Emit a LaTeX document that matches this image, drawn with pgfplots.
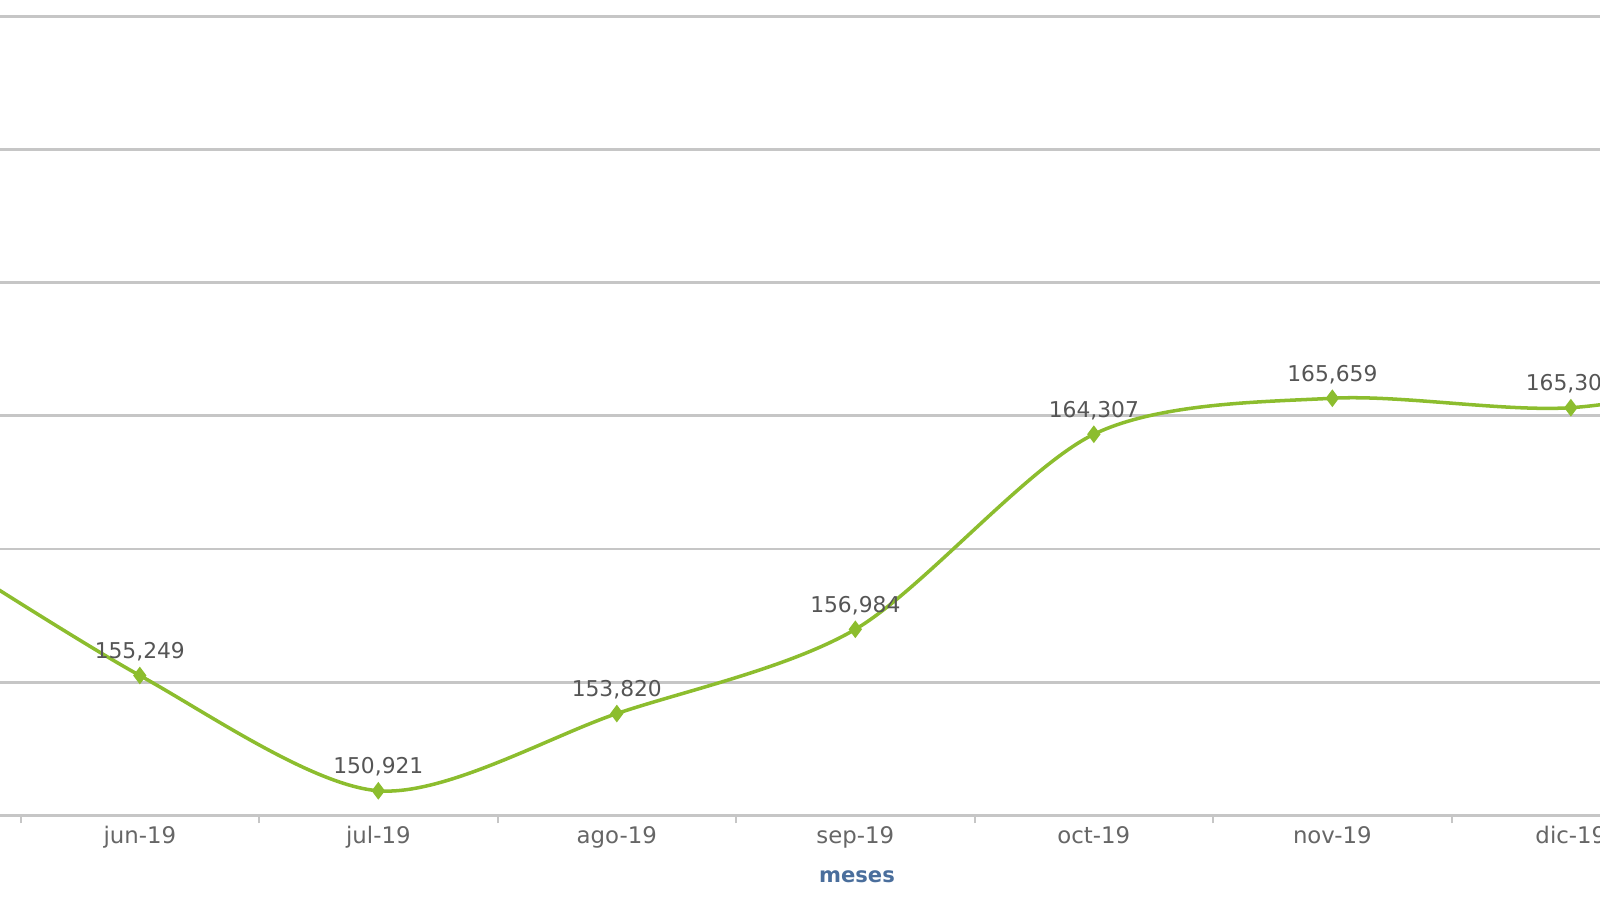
\documentclass[border=0pt]{standalone}
\usepackage{fontspec}
\setmainfont{DejaVu Sans}
\usepackage{pgfplots}
\usepackage{pgfplotstable}
\pgfplotsset{compat=1.18}
\definecolor{linegreen}{HTML}{8CBD2E}
\definecolor{gridgray}{HTML}{C6C6C6}
\definecolor{labelgray}{HTML}{555555}
\definecolor{tickgray}{HTML}{666666}
\definecolor{titleblue}{HTML}{4A6E9C}

\pgfplotstableread{
x y label
0 160800 160,800
1 155249 155,249
2 150921 150,921
3 153820 153,820
4 156984 156,984
5 164307 164,307
6 165659 165,659
7 165304 165,304
8 166800 166,800
}\saldo

\begin{document}
\begin{tikzpicture}
\useasboundingbox (0,-0.847) rectangle (16,8.153);
\clip (0,-0.847) rectangle (16,8.153);
\begin{axis}[
    at={(0,0)}, anchor=south west,
    scale only axis, width=16cm, height=8.153cm,
    xmin=0.4138, xmax=7.1224,
    ymin=150000, ymax=180612,
    axis lines*=left,
    y axis line style={draw=none},
    x axis line style={draw=gridgray, line width=0.8pt},
    ytick={150000,155000,...,180000}, yticklabels={},
    ytick style={draw=none},
    ymajorgrids, grid style={gridgray, line width=0.8pt},
    xtick={1,...,7},
    xticklabels={jun-19,jul-19,ago-19,sep-19,oct-19,nov-19,dic-19},
    major x tick style={draw=none},
    minor xtick={0.5,1.5,...,7.5},
    minor x tick style={gridgray, line width=0.6pt},
    minor tick length=0.08cm, tick align=outside,
    xticklabel style={font=\fontsize{6.5}{7}\selectfont, text=tickgray, anchor=base, yshift=-0.127cm},
    xlabel={meses},
    xlabel style={at={(axis description cs:0.5356,0)}, anchor=base, yshift=-0.67cm,
        font=\fontsize{6}{7}\selectfont\bfseries, text=titleblue},
    clip=true,
]
\addplot[linegreen, line width=1pt, smooth, mark=diamond*, mark size=1.7pt,
    point meta=explicit symbolic,
    nodes near coords,
    every node near coord/.style={font=\fontsize{6.2}{7}\selectfont, text=labelgray, anchor=base, yshift=0.17cm, inner sep=0pt}]
    table[x=x, y=y, meta=label] {\saldo};
\end{axis}
\end{tikzpicture}
\end{document}
